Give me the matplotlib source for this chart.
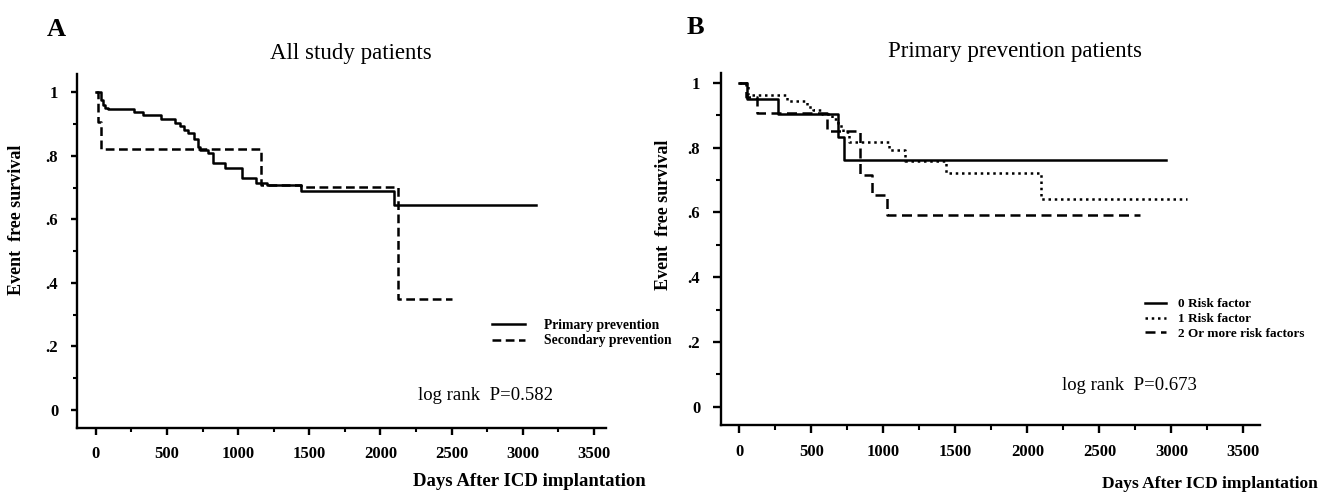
import numpy as np
import matplotlib
matplotlib.use("Agg")
import matplotlib.pyplot as plt
from matplotlib.ticker import MultipleLocator, FixedLocator, FixedFormatter

plt.rcParams['font.family'] = ['Liberation Serif', 'DejaVu Serif']

# Панель A: все пациенты
a_prim_t = [0, 40, 52, 64, 83, 126, 267, 333, 461, 555, 590, 618, 649, 689, 717, 735,
            790, 825, 906, 1024, 1129, 1200, 1441, 2092, 3095]
a_prim_s = [1.0, 0.975, 0.96, 0.952, 0.948, 0.948, 0.939, 0.928, 0.915, 0.905, 0.894, 0.883,
            0.871, 0.853, 0.827, 0.818, 0.809, 0.779, 0.761, 0.730, 0.714, 0.709, 0.690,
            0.646, 0.646]
a_sec_t = [0, 16, 35, 1164, 1440, 2125, 2500]
a_sec_s = [1.0, 0.908, 0.821, 0.708, 0.703, 0.349, 0.349]

# Панель B: первичная профилактика
b0_t = [0, 51, 271, 683, 727, 2963]
b0_s = [1.0, 0.949, 0.904, 0.832, 0.763, 0.763]
b1_t = [0, 63, 329, 468, 514, 572, 641, 688, 723, 764, 1040, 1151, 1435, 2093, 3107]
b1_s = [1.0, 0.963, 0.943, 0.925, 0.915, 0.904, 0.889, 0.868, 0.848, 0.817, 0.791,
        0.759, 0.721, 0.642, 0.642]
b2_t = [0, 46, 121, 607, 838, 919, 1024, 2783]
b2_s = [1.0, 0.955, 0.907, 0.850, 0.716, 0.653, 0.591, 0.591]

x_ticks = [0, 500, 1000, 1500, 2000, 2500, 3000, 3500]
y_ticks = [0, 0.2, 0.4, 0.6, 0.8, 1.0]
y_labels = ['0', '.2', '.4', '.6', '.8', '1']

W, H = 1320, 500
LW = 1.8
fig = plt.figure(figsize=(13.2, 5.0), dpi=100)


def box(l, r, b, t):
    return [l / W, 1 - b / H, (r - l) / W, (b - t) / H]


def style_axes(ax, xlim, ylim, ytick_len, xtick_len):
    ax.set_xlim(*xlim)
    ax.set_ylim(*ylim)
    for s in ['top', 'right']:
        ax.spines[s].set_visible(False)
    for s in ['left', 'bottom']:
        ax.spines[s].set_linewidth(1.7)
    ax.xaxis.set_major_locator(FixedLocator(x_ticks))
    ax.xaxis.set_minor_locator(MultipleLocator(250))
    ax.yaxis.set_major_locator(FixedLocator(y_ticks))
    ax.yaxis.set_major_formatter(FixedFormatter(y_labels))
    ax.yaxis.set_minor_locator(MultipleLocator(0.1))
    ax.tick_params(axis='x', which='major', length=xtick_len, width=1.7, pad=8)
    ax.tick_params(axis='x', which='minor', length=xtick_len * 0.6, width=1.5)
    ax.tick_params(axis='y', which='major', length=ytick_len, width=1.7, pad=9)
    ax.tick_params(axis='y', which='minor', length=ytick_len * 0.6, width=1.5)
    for lab in ax.get_xticklabels() + ax.get_yticklabels():
        lab.set_fontweight('bold')
        lab.set_fontsize(12)


# ---- A ----
axA = fig.add_axes(box(77, 606, 428, 74))
axA.step(a_prim_t, a_prim_s, where='post', color='black', lw=LW,
         label='Primary prevention')
axA.step(a_sec_t, a_sec_s, where='post', color='black', lw=LW,
         linestyle=(0, (3.5, 1.8)), label='Secondary prevention')
style_axes(axA, (-132, 3585), (-0.057, 1.058), 4.5, 5)
axA.legend(loc='center left', bbox_to_anchor=(492 / W, 1 - 333 / H),
           bbox_transform=fig.transFigure, frameon=False,
           prop={'weight': 'bold', 'size': 9.8}, handlelength=2.4,
           handletextpad=1.4, labelspacing=0.2, borderpad=0, borderaxespad=0)
fig.text(486 / W, 1 - 395 / H, 'log rank  P=0.582', ha='center', va='center', fontsize=13.5)
fig.text(56 / W, 1 - 30 / H, 'A', ha='center', va='center', fontsize=19, fontweight='bold')
fig.text(351 / W, 1 - 53 / H, 'All study patients', ha='center', va='center', fontsize=16.5)
fig.text(17 / W, 1 - 220 / H, 'Event  free survival', rotation=90, ha='center',
         va='center', fontsize=13, fontweight='bold')
fig.text(529 / W, 1 - 482 / H, 'Days After ICD implantation', ha='center', va='center',
         fontsize=13.5, fontweight='bold')

# ---- B ----
axB = fig.add_axes(box(721, 1260, 425, 73))
axB.step(b0_t, b0_s, where='post', color='black', lw=LW, label='0 Risk factor')
axB.step(b1_t, b1_s, where='post', color='black', lw=LW,
         linestyle=(0, (1, 1.5)), label='1 Risk factor')
axB.step(b2_t, b2_s, where='post', color='black', lw=LW,
         linestyle=(0, (4, 2.2)), label='2 Or more risk factors')
style_axes(axB, (-127, 3615), (-0.056, 1.03), 6, 5.5)
axB.legend(loc='center left', bbox_to_anchor=(1145 / W, 1 - 319 / H),
           bbox_transform=fig.transFigure, frameon=False,
           prop={'weight': 'bold', 'size': 9.5}, handlelength=1.6,
           handletextpad=0.9, labelspacing=0.2, borderpad=0, borderaxespad=0)
fig.text(1129 / W, 1 - 386 / H, 'log rank  P=0.673', ha='center', va='center', fontsize=13.5)
fig.text(695 / W, 1 - 28 / H, 'B', ha='center', va='center', fontsize=19, fontweight='bold')
fig.text(1015 / W, 1 - 52 / H, 'Primary prevention patients', ha='center', va='center',
         fontsize=16.5)
fig.text(663 / W, 1 - 215 / H, 'Event  free survival', rotation=90, ha='center',
         va='center', fontsize=13, fontweight='bold')
fig.text(1210 / W, 1 - 484 / H, 'Days After ICD implantation', ha='center', va='center',
         fontsize=12.5, fontweight='bold')

fig.savefig('out.png', dpi=100)
